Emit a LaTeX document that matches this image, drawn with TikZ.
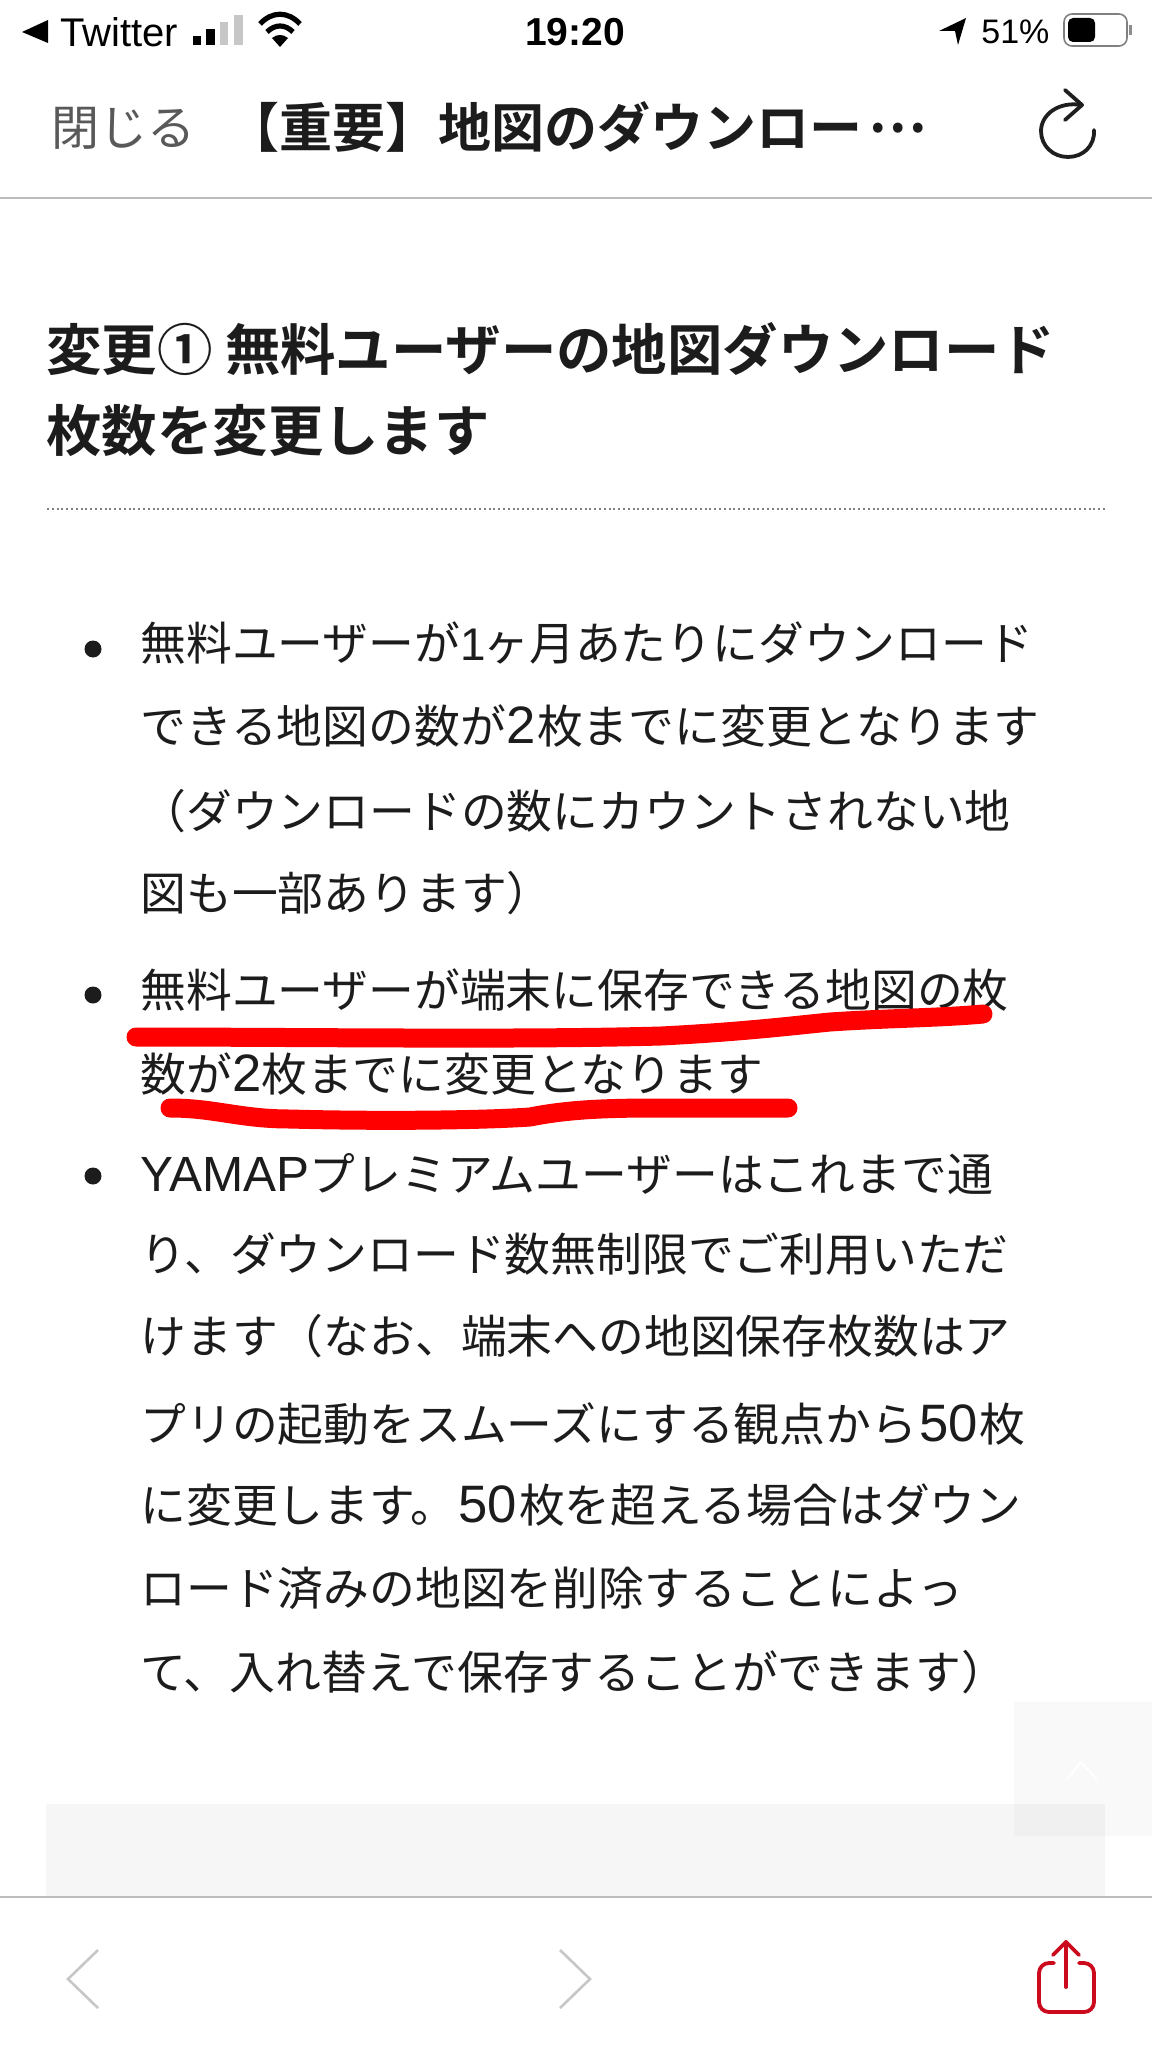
\documentclass[tikz,border=0pt]{standalone}
\usepackage{fontspec}
\setmainfont{Liberation Sans}
\newfontfamily\jp{Noto Sans CJK JP}[BoldFont={Noto Sans CJK JP Bold}]
\newfontfamily\la{Liberation Sans}
\newfontfamily\dg{Liberation Sans}[Scale=1.15]
\newfontfamily\lw{Liberation Sans}[Scale=1.08]
\definecolor{ink}{HTML}{1C1C1C}
\definecolor{panel}{HTML}{F6F6F6}
\definecolor{hair}{HTML}{BDBDBD}
\definecolor{mark}{HTML}{FE0000}
\definecolor{sharered}{HTML}{CC0A1E}
\tikzset{
  bodyline/.style={anchor=west,inner sep=0pt,text=ink,font=\jp\fontsize{22.9}{27}\selectfont,text height=20pt,text depth=2.9pt},
  headline/.style={anchor=west,inner sep=0pt,text=ink,font=\jp\bfseries\fontsize{27.7}{33}\selectfont,text height=24.3pt,text depth=3.4pt},
  statusline/.style={anchor=west,inner sep=0pt,text=black,font=\la\fontsize{17}{20}\selectfont},
  navtitle/.style={anchor=west,inner sep=0pt,text=ink,font=\jp\bfseries\fontsize{26.5}{32}\selectfont,text height=23.2pt,text depth=3.3pt},
  navclose/.style={anchor=west,inner sep=0pt,text=black!65,font=\jp\fontsize{24}{28}\selectfont,text height=21pt,text depth=3pt},
  redstroke/.style={draw=mark,line width=9.5pt,line cap=round,line join=round},
  hairline/.style={draw=hair,line width=0.7pt},
  bulletdot/.style={circle,fill=ink,inner sep=0pt,minimum size=8.5pt},
  chevron/.style={draw=black!22,line width=1.3pt,line join=miter},
  iconline/.style={draw=sharered,line width=1.9pt,line cap=round,line join=round},
  reloadline/.style={draw=black!88,line width=1.9pt,line cap=round,line join=round}
}
\begin{document}
\begin{tikzpicture}[x=0.5pt,y=-0.5pt]
\useasboundingbox[fill=white] (0,0) rectangle (1152,2048);
% panels
\fill[panel] (46,1804) rectangle (1105,1897);
\fill[black,opacity=0.025] (1014,1702) rectangle (1152,1836);
\draw[white,line width=1pt] (1066,1780) -- (1081,1762) -- (1097,1780);
% status bar
\fill[black] (48,20) -- (48,43) -- (22,32) -- cycle;
\node[statusline,font=\la\fontsize{20}{24}\selectfont] (twitter) at (60,32) {Twitter};
\fill[black] (193,36) rectangle (201,45);
\fill[black] (206,29) rectangle (215,45);
\fill[black!22] (220,22) rectangle (228,45);
\fill[black!22] (234,15) rectangle (243,45);
\begin{scope}[line width=2.6pt,draw=black]
\draw (260,24) .. controls (272,11) and (288,11) .. (300,24);
\draw (267,32) .. controls (275,24) and (285,24) .. (293,32);
\end{scope}
\fill[black] (280,47) -- (272,38) .. controls (277,34) and (283,34) .. (288,38) -- cycle;
\node[statusline,anchor=center,font=\la\bfseries\fontsize{19.5}{23}\selectfont] (clock) at (575,32) {19:20};
\fill[black] (966,18) -- (958,45) -- (955,31) -- (939,31) -- cycle;
\node[statusline] (battpct) at (981,32) {51\%};
\draw[black!50,line width=0.8pt,rounded corners=4pt] (1064,14) rectangle (1127,46);
\fill[black,rounded corners=2.5pt] (1068,18) rectangle (1095,42);
\fill[black!45] (1129,25) rectangle (1132,35);
% nav bar
\node[navclose] (close) at (51,128) {閉じる};
\node[navtitle] (title) at (226,128) {【重要】地図のダウンロー\kern3pt\raisebox{7.5pt}{…}};
\draw[reloadline] (1082,105) .. controls (1058,101) and (1041,115) .. (1041,131) .. controls (1041,146) and (1053,157) .. (1068,157) .. controls (1083,157) and (1095,146) .. (1094,130);
\draw[reloadline] (1065,90) -- (1082,105) -- (1065,120);
\draw[hairline] (0,198) -- (1152,198);
% heading
\node[headline] (h1) at (46,350) {変更① 無料ユーザーの地図ダウンロード};
\node[headline] (h2) at (46,431) {枚数を変更します};
\draw[black!50,line width=0.7pt,dash pattern=on 1pt off 1.4pt] (47,509) -- (1105,509);
% bullets
\node[bulletdot] (b1) at (93,649) {};
\node[bulletdot] (b2) at (93,995) {};
\node[bulletdot] (b3) at (93,1176) {};
\node[bodyline] (l1) at (140,643) {無料ユーザーが{\la 1}\kern-1pt ヶ月あたりにダウンロード};
\node[bodyline] (l2) at (140,726) {できる地図の数が\kern.5pt{\dg 2}\kern.5pt 枚までに変更となります};
\node[bodyline] (l3) at (140,811) {（ダウンロードの数にカウントされない地};
\node[bodyline] (l4) at (140,893) {図も一部あります）};
\node[bodyline] (l5) at (140,990) {無料ユーザーが端末に保存できる地図の枚};
\node[bodyline] (l6) at (140,1074) {数が{\dg 2}枚までに変更となります};
\node[bodyline] (l7) at (140,1174) {{\lw YAMAP}プレミアムユーザーはこれまで通};
\node[bodyline] (l8) at (140,1254) {り、ダウンロード数無制限でご利用いただ};
\node[bodyline] (l9) at (140,1336) {けます（なお、端末への地図保存枚数はア};
\node[bodyline] (l10) at (140,1424) {プリの起動をスムーズにする観点から\kern1pt{\dg 50}\kern1pt 枚};
\node[bodyline] (l11) at (140,1505) {に変更します。\kern1pt{\dg 50}\kern1pt 枚を超える場合はダウン};
\node[bodyline] (l12) at (140,1588) {ロード済みの地図を削除することによっ};
\node[bodyline] (l13) at (140,1672) {て、入れ替えで保存することができます）};
\draw[redstroke] (136,1037) .. controls (300,1037) and (520,1040) .. (661,1036) .. controls (740,1032) and (790,1026) .. (830,1022) .. controls (890,1018) and (940,1018) .. (983,1014);
\draw[redstroke] (170,1108) .. controls (215,1108) and (240,1119) .. (290,1119) .. controls (360,1121) and (470,1121) .. (530,1117) .. controls (570,1109) and (610,1108) .. (660,1108) -- (788,1108);
% bottom bar
\draw[hairline] (0,1897) -- (1152,1897);
\draw[chevron] (98,1950) -- (68,1979) -- (98,2008);
\draw[chevron] (560,1950) -- (590,1979) -- (560,2008);
\draw[iconline,rounded corners=5pt] (1054,1963) -- (1039,1963) -- (1039,2012) -- (1094,2012) -- (1094,1963) -- (1079,1963);
\draw[iconline] (1066,1987) -- (1066,1942);
\draw[iconline] (1053,1955) -- (1066,1942) -- (1079,1955);
\end{tikzpicture}
\end{document}
